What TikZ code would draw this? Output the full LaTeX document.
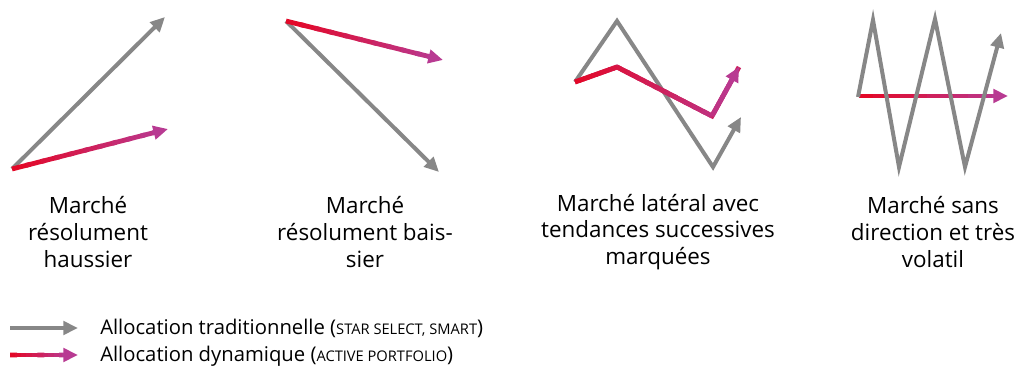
\documentclass[tikz,border=0pt]{standalone}
\usepackage{fontspec}
\setmainfont{Open Sans}
\usetikzlibrary{arrows.meta,calc}

\definecolor{allocgray}{RGB}{135,135,135}
\definecolor{dynred}{RGB}{227,8,40}
\definecolor{dynmag}{RGB}{184,58,146}

\tikzset{
  tradline/.style={allocgray,line width=3pt,line join=miter},
  dynline/.style={line width=3.6pt,line join=miter},
  tradtip/.style={-{Triangle[length=11pt,width=10pt]}},
  panellabel/.style={align=center,font=\fontsize{16.8}{20}\selectfont,inner sep=0pt},
  legendlabel/.style={anchor=west,font=\fontsize{15.2}{19}\selectfont,inner sep=0pt},
}

% smaller capitals in the legend
\newcommand{\legsc}[1]{{\fontsize{11}{13}\selectfont #1}}

% gradient piece: from, to, magenta share at start, magenta share at end
\newcommand{\gradseg}[4]{%
  \foreach \k in {0,...,9}{%
    \pgfmathsetmacro{\mixa}{#3+(#4-#3)*\k/10}%
    \pgfmathsetmacro{\fend}{min((\k+1.3)/10,1)}%
    \draw[dynline,dynmag!\mixa!dynred] ($(#1)!\k/10!(#2)$) -- ($(#1)!\fend!(#2)$);
  }}
% gradient arrow: last piece of the path, ends in a tip
\newcommand{\gradarrow}[4]{%
  \coordinate (gstop) at ($(#2)!10pt!(#1)$);
  \gradseg{#1}{gstop}{#3}{#4}
  \draw[dynline,dynmag,tradtip] ($(#2)!12pt!(#1)$) -- (#2);
}

\begin{document}
\begin{tikzpicture}[x=0.75pt,y=-0.75pt]
  \useasboundingbox (0,0) rectangle (1018,367);
%%
  % Panel: haussier
  \coordinate (h0) at (12,169);
  \coordinate (hg) at (165,17);
  \coordinate (hr) at (168,129);
  \draw [tradline,tradtip] (h0) -- (hg);
  \gradarrow{h0}{hr}{0}{100}
  \node [panellabel] (hlab) at (88,232) {Marché\\résolument\\haussier};
  % Panel: baissier
  \coordinate (b0) at (286,21);
  \coordinate (bg) at (439,172);
  \coordinate (br) at (443,60);
  \draw [tradline,tradtip] (b0) -- (bg);
  \gradarrow{b0}{br}{0}{100}
  \node [panellabel] (blab) at (365,232) {Marché\\résolument bais-\\sier};
  % Panel: latéral
  \coordinate (l0) at (575,82);
  \coordinate (l1) at (617,21);
  \coordinate (l2) at (713,167);
  \coordinate (lg) at (741,117);
  \coordinate (m1) at (617,67);
  \coordinate (m2) at (712,116);
  \coordinate (lr) at (739,67);
  \draw [tradline,tradtip] (l0) -- (l1) -- (l2) -- (lg);
  \draw [dynline,dynmag!55!dynred] (l0) -- (m1) -- (m2) -- (lr);
  \gradseg{l0}{m1}{0}{26}
  \gradseg{m1}{m2}{26}{84}
  \gradarrow{m2}{lr}{84}{100}
  \node [panellabel] (llab) at (658,232) {Marché latéral avec\\tendances successives\\marquées};
  % Panel: volatil
  \coordinate (v0) at (858,97);
  \coordinate (v1) at (873,20);
  \coordinate (v2) at (899,167);
  \coordinate (v3) at (935,19);
  \coordinate (v4) at (965,167);
  \coordinate (vg) at (1001,33);
  \coordinate (vr) at (1008,96);
  \coordinate (vs) at (859,96);
  \gradarrow{vs}{vr}{0}{100}
  \draw [tradline,tradtip] (v0) -- (v1) -- (v2) -- (v3) -- (v4) -- (vg);
  \node [panellabel] (vlab) at (933,232) {Marché sans\\direction et très\\volatil};
%%
  % Legend
  \coordinate (kg0) at (10,328);
  \coordinate (kg1) at (78,328);
  \coordinate (kr0) at (10,355);
  \coordinate (kr1) at (78,355);
  \draw [tradline,tradtip] (kg0) -- (kg1);
  \gradarrow{kr0}{kr1}{0}{100}
  \node [legendlabel] (ktrad) at (100,328) {Allocation traditionnelle (\legsc{STAR SELECT, SMART})};
  \node [legendlabel] (kdyn) at (100,356) {Allocation dynamique (\legsc{ACTIVE PORTFOLIO})};
%
\end{tikzpicture}
\end{document}
